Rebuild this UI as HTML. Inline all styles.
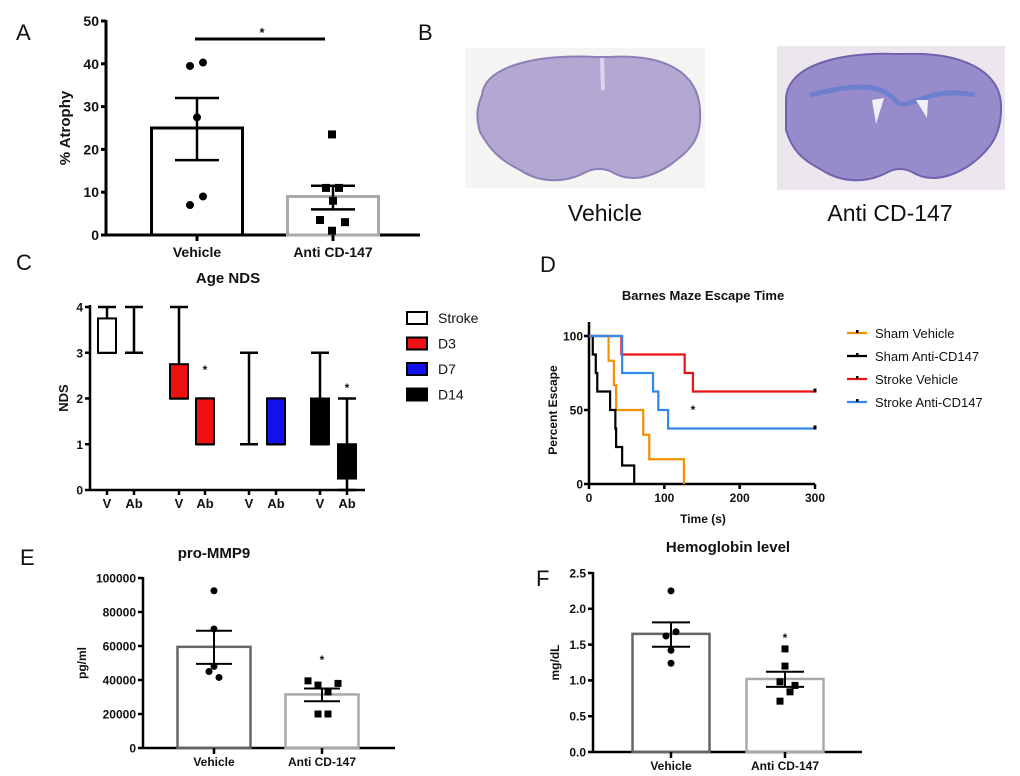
<!DOCTYPE html>
<html><head><meta charset="utf-8">
<style>
html,body{margin:0;padding:0;background:#fff;}
svg{display:block;font-family:"Liberation Sans",Arial,sans-serif;}
</style></head>
<body>
<svg id="fig" width="1020" height="776" viewBox="0 0 1020 776" xmlns="http://www.w3.org/2000/svg">
  <g font-size="22" fill="#111">
    <text x="16" y="40">A</text>
    <text x="418" y="40">B</text>
    <text x="16" y="270">C</text>
    <text x="540" y="272">D</text>
    <text x="20" y="565">E</text>
    <text x="536" y="586">F</text>
  </g>
  <g>
    <rect x="465" y="48" width="240" height="140" fill="#f4f4f2"/>
    <path d="M482,95 C485,65 540,54 596,57 L610,57 C665,54 698,72 700,110 C702,140 690,150 670,165 C650,178 630,183 612,172 C604,168 594,168 586,172 C560,186 535,180 520,170 C500,160 490,150 480,132 C475,115 478,105 482,95 Z" fill="#b3a8d2" stroke="#8c7fb8" stroke-width="2"/>
    <path d="M602,58 L603,90" stroke="#ddd6ea" stroke-width="4"/>
    <rect x="777" y="46" width="228" height="144" fill="#ece6ee"/>
    <path d="M786,100 C786,65 840,52 896,54 L906,54 C960,52 1000,70 1001,105 C1002,135 990,150 970,165 C950,178 930,183 912,172 C905,168 895,168 888,172 C862,186 837,180 822,170 C802,160 792,150 786,130 Z" fill="#988bcc" stroke="#6f63ad" stroke-width="2"/>
    <path d="M810,95 C850,85 880,82 895,100 C910,115 920,85 975,95" stroke="#6f7fd0" stroke-width="5" fill="none"/>
    <path d="M872,100 L884,98 L876,124 Z" fill="#f2eef6"/>
    <path d="M916,100 L928,100 L927,118 Z" fill="#f2eef6"/>
    <text x="605" y="221" font-size="23" text-anchor="middle" fill="#111">Vehicle</text>
    <text x="890" y="221" font-size="23" text-anchor="middle" fill="#111">Anti CD-147</text>
  </g>
</svg>
<script>
// ---------- data ----------
const aGroups = ['Vehicle', 'Anti CD-147'];
const aMeans = [25, 9];
const aSemHi = [32, 11.5];
const aSemLo = [17.5, 6];
const aVehPts = [39.5, 40.3, 27.5, 9, 7];
const aAntiPts = [23.5, 11, 11, 8, 3.5, 3, 1];
const aTicks = [0, 10, 20, 30, 40, 50];
const cCats = ['V', 'Ab', 'V', 'Ab', 'V', 'Ab', 'V', 'Ab'];
const cGroup = ['Stroke', 'Stroke', 'D3', 'D3', 'D7', 'D7', 'D14', 'D14'];
const cMin = [3, 3, 2, 1, 1, 1, 1, 0];
const cQ1 = [3, 3, 2, 1, 2, 1, 1, 0.25];
const cQ3 = [3.75, 3, 2.75, 2, 2, 2, 2, 1];
const cMax = [4, 4, 4, 2, 3, 2, 3, 2];
const cTicks = [0, 1, 2, 3, 4];
const cLegend = ['Stroke', 'D3', 'D7', 'D14'];
const dSeries = ['Sham Vehicle', 'Sham Anti-CD147', 'Stroke Vehicle', 'Stroke Anti-CD147'];
const dTimes = [
  [0, 26, 33, 36, 72, 80, 126],
  [0, 5, 9, 11, 28, 35, 36, 44, 60],
  [0, 43, 127, 138, 300],
  [0, 44, 85, 92, 105, 300]
];
const dPct = [
  [100, 83.3, 66.7, 50, 33.3, 16.7, 0],
  [100, 87.5, 75, 62.5, 50, 37.5, 25, 12.5, 0],
  [100, 87.5, 75, 62.5, 62.5],
  [100, 75, 62.5, 50, 37.5, 37.5]
];
const dXTicks = [0, 100, 200, 300];
const dYTicks = [0, 50, 100];
const eMeans = [59500, 31500];
const eSemHi = [69000, 35000];
const eSemLo = [49500, 27500];
const eVehPts = [92500, 70000, 48000, 45000, 41500];
const eAntiPts = [39500, 37000, 38000, 33000, 20000, 20000];
const eTicks = [0, 20000, 40000, 60000, 80000, 100000];
const fMeans = [1.65, 1.02];
const fSemHi = [1.81, 1.12];
const fSemLo = [1.47, 0.91];
const fVehPts = [2.25, 1.68, 1.62, 1.42, 1.24];
const fAntiPts = [1.44, 1.2, 0.98, 0.93, 0.84, 0.71];
const fTicks = ['0.0', '0.5', '1.0', '1.5', '2.0', '2.5'];

// ---------- helpers ----------
const svg = document.getElementById('fig');
const NS = 'http://www.w3.org/2000/svg';
function mk(parent, tag, attrs, name, inter) {
  const el = document.createElementNS(NS, tag);
  for (const k in attrs) el.setAttribute(k, attrs[k]);
  
  
  parent.appendChild(el);
  return el;
}
function txt(parent, x, y, s, name, opts) {
  const o = Object.assign({size: 12, anchor: 'middle', bold: true, rot: 0}, opts || {});
  const a = {x: x, y: y, 'font-size': o.size, 'text-anchor': o.anchor, fill: '#111'};
  if (o.bold) a['font-weight'] = 'bold';
  if (o.rot) a.transform = 'rotate(' + o.rot + ' ' + x + ' ' + y + ')';
  const t = mk(parent, 'text', a, name, false);
  t.textContent = s;
  return t;
}
function line(parent, x1, y1, x2, y2, w, c, name) {
  return mk(parent, 'line', {x1: x1, y1: y1, x2: x2, y2: y2, stroke: c || '#000', 'stroke-width': w}, name, false);
}

function barPanel(p) {
  const g = mk(svg, 'g', {}, p.name, false);
  const ys = v => p.y0 - (v - 0) / p.ymax * (p.y0 - p.ytop);
  line(g, p.x0, p.y0, p.xEnd, p.y0, p.axisW, '#000', 'x-axis');
  line(g, p.x0, p.y0 + 1, p.x0, p.ytop - 1, p.axisW, '#000', 'y-axis');
  p.ticks.forEach(t => {
    const v = parseFloat(t);
    const y = ys(v);
    line(g, p.x0 - 5, y, p.x0, y, p.axisW, '#000', 'y-tick');
    txt(g, p.x0 - 7, y + p.tickSize * 0.36, String(t), 'y-tick-label', {size: p.tickSize, anchor: 'end'});
  });
  p.centers.forEach((cx, i) => {
    const top = ys(p.means[i]);
    mk(g, 'rect', {x: cx - p.bw / 2, y: top, width: p.bw, height: p.y0 - top, fill: 'none', stroke: p.colors[i], 'stroke-width': p.barW}, 'bar-' + (i ? 'anti' : 'vehicle'), false);
    line(g, cx, p.y0, cx, p.y0 + 6, p.axisW, '#000', 'x-tick');
    txt(g, cx, p.y0 + p.labelDy, aGroups[i], 'x-tick-label', {size: p.labelSize});
    const pts = i ? p.anti : p.veh;
    const jit = i ? p.jitAnti : p.jitVeh;
    pts.forEach((v, j) => {
      const px = cx + jit[j], py = ys(v);
      if (i === 0) mk(g, 'circle', {cx: px, cy: py, r: p.ms / 2, fill: '#000'}, 'vehicle-point', false);
      else mk(g, 'rect', {x: px - p.ms / 2, y: py - p.ms / 2, width: p.ms, height: p.ms, fill: '#000'}, 'anti-point', false);
    });
    line(g, cx, ys(p.semHi[i]), cx, ys(p.semLo[i]), p.errW, '#000', 'error-bar');
    line(g, cx - p.cap, ys(p.semHi[i]), cx + p.cap, ys(p.semHi[i]), p.errW, '#000', 'error-cap-high');
    line(g, cx - p.cap, ys(p.semLo[i]), cx + p.cap, ys(p.semLo[i]), p.errW, '#000', 'error-cap-low');
  });
  txt(g, p.yLabelX, (p.y0 + p.ytop) / 2, p.yLabel, 'y-axis-title', {size: p.yLabelSize, rot: -90});
  if (p.title) txt(g, p.titleX, p.titleY, p.title, 'chart-title', {size: 15});
  return {g: g, ys: ys};
}

// ---------- Panel A ----------
const A = barPanel({name: 'panel-a-atrophy', x0: 106, y0: 235, ytop: 21, ymax: 50, xEnd: 420, ticks: aTicks,
  tickSize: 14, centers: [197, 333], bw: 91, means: aMeans, semHi: aSemHi, semLo: aSemLo,
  colors: ['#000', '#aaa'], barW: 3, axisW: 3, errW: 2.5, cap: 22, veh: aVehPts, anti: aAntiPts,
  jitVeh: [-7, 6, 0, 6, -7], jitAnti: [-1, -7, 6, 0, -13, 12, -1], ms: 8, labelDy: 22, labelSize: 14,
  yLabel: '% Atrophy', yLabelX: 70, yLabelSize: 15});
line(A.g, 195, 39, 325, 39, 3, '#000', 'significance-bar');
txt(A.g, 262, 37, '*', 'significance-star', {size: 13});

// ---------- Panel C ----------
(function () {
  const g = mk(svg, 'g', {}, 'panel-c-nds', false);
  const x0 = 90, y0 = 490, ytop = 307;
  const ys = v => y0 - v / 4 * (y0 - ytop);
  const centers = [107, 134, 179, 205, 249, 276, 320, 347];
  const fills = {Stroke: '#fff', D3: '#ee1111', D7: '#1111ee', D14: '#000'};
  line(g, x0, y0, 365, y0, 2.5, '#000', 'x-axis');
  line(g, x0, y0 + 1, x0, ytop - 2, 2.5, '#000', 'y-axis');
  cTicks.forEach(t => {
    line(g, x0 - 5, ys(t), x0, ys(t), 2.5, '#000', 'y-tick');
    txt(g, x0 - 7, ys(t) + 4.5, String(t), 'y-tick-label', {size: 12, anchor: 'end'});
  });
  cCats.forEach((c, i) => {
    const cx = centers[i], hw = 9;
    const wcap = 9;
    line(g, cx, ys(cMax[i]), cx, ys(cMin[i]), 2.5, '#000', 'whisker');
    line(g, cx - wcap, ys(cMax[i]), cx + wcap, ys(cMax[i]), 2.5, '#000', 'whisker-cap');
    line(g, cx - wcap, ys(cMin[i]), cx + wcap, ys(cMin[i]), 2.5, '#000', 'whisker-cap');
    if (cQ3[i] > cQ1[i]) {
      mk(g, 'rect', {x: cx - hw, y: ys(cQ3[i]), width: hw * 2, height: ys(cQ1[i]) - ys(cQ3[i]), fill: fills[cGroup[i]], stroke: '#000', 'stroke-width': 2}, 'box-' + cGroup[i].toLowerCase() + '-' + c.toLowerCase(), false);
    }
    line(g, cx, y0, cx, y0 + 5, 2.5, '#000', 'x-tick');
    txt(g, cx, y0 + 18, c, 'x-tick-label', {size: 13});
  });
  txt(g, 205, 374, '*', 'star-d3', {size: 12});
  txt(g, 347, 392, '*', 'star-d14', {size: 12});
  txt(g, 68, 398, 'NDS', 'y-axis-title', {size: 13, rot: -90});
  txt(g, 228, 283, 'Age NDS', 'chart-title', {size: 15});
  cLegend.forEach((n, i) => {
    const y = 312 + i * 25.5;
    mk(g, 'rect', {x: 407, y: y, width: 20, height: 12, fill: fills[n], stroke: '#000', 'stroke-width': 2}, 'legend-swatch', false);
    txt(g, 438, y + 11, n, 'legend-entry', {size: 14, anchor: 'start', bold: false});
  });
})();

// ---------- Panel D ----------
(function () {
  const g = mk(svg, 'g', {}, 'panel-d-survival', false);
  const x0 = 589, y0 = 484, ytop = 336, xr = 815;
  const xs = t => x0 + t / 300 * (xr - x0);
  const ys = v => y0 - v / 100 * (y0 - ytop);
  const colors = ['#f39200', '#000', '#ee1111', '#3388ee'];
  line(g, x0, y0, xr, y0, 2.5, '#000', 'x-axis');
  line(g, x0, y0 + 1, x0, 322, 2.5, '#000', 'y-axis');
  dXTicks.forEach(t => {
    line(g, xs(t), y0, xs(t), y0 + 5, 2.5, '#000', 'x-tick');
    txt(g, xs(t), y0 + 18, String(t), 'x-tick-label', {size: 12});
  });
  dYTicks.forEach(t => {
    line(g, x0 - 5, ys(t), x0, ys(t), 2.5, '#000', 'y-tick');
    txt(g, x0 - 6, ys(t) + 4.5, String(t), 'y-tick-label', {size: 12, anchor: 'end'});
  });
  dSeries.forEach((n, s) => {
    const T = dTimes[s], P = dPct[s];
    let d = 'M' + xs(T[0]) + ',' + ys(P[0]);
    for (let i = 1; i < T.length; i++) d += ' H' + xs(T[i]) + ' V' + ys(P[i]);
    mk(g, 'path', {d: d, fill: 'none', stroke: colors[s], 'stroke-width': 2.2}, 'line-' + n.toLowerCase().replace(/ /g, '-'), false);
    if (T[T.length - 1] === 300) mk(g, 'rect', {x: xs(300) - 1.5, y: ys(P[P.length - 1]) - 3, width: 3, height: 4, fill: '#000'}, 'censor-mark', false);
    const ly = 333 + s * 23;
    line(g, 847, ly, 867, ly, 2.2, colors[s], 'legend-line');
    mk(g, 'rect', {x: 856, y: ly - 3, width: 2.5, height: 3, fill: '#000'}, 'legend-tick', false);
    txt(g, 875, ly + 5, n, 'legend-entry', {size: 13, anchor: 'start', bold: false});
  });
  txt(g, 693, 414, '*', 'significance-star', {size: 12});
  txt(g, 703, 300, 'Barnes Maze Escape Time', 'chart-title', {size: 13});
  txt(g, 703, 523, 'Time (s)', 'x-axis-title', {size: 12});
  txt(g, 557, 410, 'Percent Escape', 'y-axis-title', {size: 12, rot: -90});
})();

// ---------- Panel E ----------
barPanel({name: 'panel-e-mmp9', x0: 143, y0: 748, ytop: 578, ymax: 100000, xEnd: 395, ticks: eTicks,
  tickSize: 12, centers: [214, 322], bw: 73, means: eMeans, semHi: eSemHi, semLo: eSemLo,
  colors: ['#666', '#aaa'], barW: 2.5, axisW: 2.5, errW: 2, cap: 18, veh: eVehPts, anti: eAntiPts,
  jitVeh: [0, 0, 0, -5, 5], jitAnti: [-14, -4, 16, 6, -4, 6], ms: 7, labelDy: 18, labelSize: 12,
  yLabel: 'pg/ml', yLabelX: 86, yLabelSize: 12, title: 'pro-MMP9', titleX: 214, titleY: 558});
txt(svg, 322, 664, '*', 'star-e', {size: 12});

// ---------- Panel F ----------
barPanel({name: 'panel-f-hemoglobin', x0: 593, y0: 752, ytop: 573, ymax: 2.5, xEnd: 862, ticks: fTicks,
  tickSize: 12, centers: [671, 785], bw: 77, means: fMeans, semHi: fSemHi, semLo: fSemLo,
  colors: ['#666', '#aaa'], barW: 2.5, axisW: 2.5, errW: 2, cap: 19, veh: fVehPts, anti: fAntiPts,
  jitVeh: [0, 5, -5, 0, 0], jitAnti: [0, 0, -5, 10, 5, -5], ms: 7, labelDy: 18, labelSize: 12,
  yLabel: 'mg/dL', yLabelX: 559, yLabelSize: 12, title: 'Hemoglobin level', titleX: 728, titleY: 552});
txt(svg, 785, 642, '*', 'star-f', {size: 12});
</script>
</body></html>
